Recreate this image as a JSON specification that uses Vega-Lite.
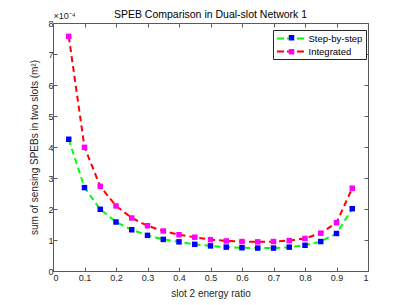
{
  "$schema": "https://vega.github.io/schema/vega-lite/v6.json",
  "autosize": "none",
  "width": 315,
  "height": 248,
  "padding": {"left": 53, "top": 23, "right": 39, "bottom": 34},
  "background": "white",
  "title": {"text": "SPEB Comparison in Dual-slot Network 1", "fontSize": 10.5, "fontWeight": "normal", "font": "Liberation Sans", "color": "#000000", "offset": -9, "anchor": "middle", "frame": "group"},
  "config": {
    "view": {"stroke": null},
    "font": "Liberation Sans",
    "axis": {"grid": false, "domainColor": "#5a5a5a", "tickColor": "#5a5a5a", "domainWidth": 1, "tickWidth": 1, "labelColor": "#262626", "titleColor": "#262626", "labelFont": "Liberation Sans", "titleFont": "Liberation Sans", "labelFontSize": 9, "titleFontSize": 10, "titleFontWeight": "normal"}
  },
  "data": {"values": [
    {"x": 0.05, "y": 0.000425, "series": "Step-by-step"},
    {"x": 0.10, "y": 0.000269, "series": "Step-by-step"},
    {"x": 0.15, "y": 0.000199, "series": "Step-by-step"},
    {"x": 0.20, "y": 0.000158, "series": "Step-by-step"},
    {"x": 0.25, "y": 0.000133, "series": "Step-by-step"},
    {"x": 0.30, "y": 0.000115, "series": "Step-by-step"},
    {"x": 0.35, "y": 0.000102, "series": "Step-by-step"},
    {"x": 0.40, "y": 0.000094, "series": "Step-by-step"},
    {"x": 0.45, "y": 0.000086, "series": "Step-by-step"},
    {"x": 0.50, "y": 0.000081, "series": "Step-by-step"},
    {"x": 0.55, "y": 0.000077, "series": "Step-by-step"},
    {"x": 0.60, "y": 0.000075, "series": "Step-by-step"},
    {"x": 0.65, "y": 0.000074, "series": "Step-by-step"},
    {"x": 0.70, "y": 0.000074, "series": "Step-by-step"},
    {"x": 0.75, "y": 0.000077, "series": "Step-by-step"},
    {"x": 0.80, "y": 0.000083, "series": "Step-by-step"},
    {"x": 0.85, "y": 0.000095, "series": "Step-by-step"},
    {"x": 0.90, "y": 0.000121, "series": "Step-by-step"},
    {"x": 0.95, "y": 0.000201, "series": "Step-by-step"},
    {"x": 0.05, "y": 0.000757, "series": "Integrated"},
    {"x": 0.10, "y": 0.000399, "series": "Integrated"},
    {"x": 0.15, "y": 0.000273, "series": "Integrated"},
    {"x": 0.20, "y": 0.000210, "series": "Integrated"},
    {"x": 0.25, "y": 0.000171, "series": "Integrated"},
    {"x": 0.30, "y": 0.000146, "series": "Integrated"},
    {"x": 0.35, "y": 0.000129, "series": "Integrated"},
    {"x": 0.40, "y": 0.000117, "series": "Integrated"},
    {"x": 0.45, "y": 0.000109, "series": "Integrated"},
    {"x": 0.50, "y": 0.000101, "series": "Integrated"},
    {"x": 0.55, "y": 0.000097, "series": "Integrated"},
    {"x": 0.60, "y": 0.000095, "series": "Integrated"},
    {"x": 0.65, "y": 0.000094, "series": "Integrated"},
    {"x": 0.70, "y": 0.000095, "series": "Integrated"},
    {"x": 0.75, "y": 0.000098, "series": "Integrated"},
    {"x": 0.80, "y": 0.000105, "series": "Integrated"},
    {"x": 0.85, "y": 0.000122, "series": "Integrated"},
    {"x": 0.90, "y": 0.000156, "series": "Integrated"},
    {"x": 0.95, "y": 0.000267, "series": "Integrated"}
  ]},
  "layer": [
    {
      "mark": {"type": "line", "strokeWidth": 2, "strokeDash": [6, 4]},
      "encoding": {
        "x": {"field": "x", "type": "quantitative", "scale": {"domain": [0, 1], "nice": false},
              "axis": {"orient": "bottom", "values": [0, 0.1, 0.2, 0.3, 0.4, 0.5, 0.6, 0.7, 0.8, 0.9, 1], "format": ".1~f", "tickSize": -4, "labelPadding": 6, "title": "slot 2 energy ratio", "titlePadding": 6}},
        "y": {"field": "y", "type": "quantitative", "scale": {"domain": [0, 0.0008], "nice": false},
              "axis": {"orient": "left", "values": [0, 0.0001, 0.0002, 0.0003, 0.0004, 0.0005, 0.0006, 0.0007, 0.0008], "labelExpr": "format(datum.value*10000, '.0f')", "tickSize": -4, "labelPadding": 4, "title": "sum of sensing SPEBs in two slots (m²)", "titlePadding": 8}},
        "stroke": {"field": "series", "type": "nominal", "sort": ["Step-by-step", "Integrated"],
                   "scale": {"range": ["#00FF00", "#FF0000"]},
                   "legend": {"orient": "none", "legendX": 220, "legendY": 7, "title": null, "symbolType": "M-1,0H5", "symbolSize": 81, "symbolStrokeWidth": 2, "symbolDash": [7, 3], "labelOffset": 21.5, "labelFontSize": 9.5, "labelColor": "#000000", "padding": 3, "rowPadding": 3, "strokeColor": "#262626", "fillColor": "white"}}
      }
    },
    {
      "mark": {"type": "point", "shape": "square", "filled": true, "size": 30, "opacity": 1},
      "encoding": {
        "x": {"field": "x", "type": "quantitative",
              "axis": {"orient": "top", "values": [0, 0.1, 0.2, 0.3, 0.4, 0.5, 0.6, 0.7, 0.8, 0.9, 1], "labels": false, "tickSize": -4, "title": null}},
        "y": {"field": "y", "type": "quantitative",
              "axis": {"orient": "right", "values": [0, 0.0001, 0.0002, 0.0003, 0.0004, 0.0005, 0.0006, 0.0007, 0.0008], "labels": false, "tickSize": -4, "title": "×10⁻⁴", "titleAngle": 0, "titleX": -315, "titleY": -5, "titleAlign": "left", "titleBaseline": "alphabetic", "titleFontSize": 9}},
        "fill": {"field": "series", "type": "nominal",
                 "scale": {"domain": ["Step-by-step", "Integrated"], "range": ["#0000FF", "#FF00FF"]},
                 "legend": {"orient": "none", "legendX": 230.76, "legendY": 7, "title": null, "symbolType": "square", "symbolSize": 30, "symbolStrokeWidth": 0, "symbolOpacity": 1, "labelExpr": "''", "labelOffset": 0, "labelFontSize": 9.5, "padding": 3, "rowPadding": 3}}
      }
    }
  ],
  "resolve": {"axis": {"x": "independent", "y": "independent"}}
}
